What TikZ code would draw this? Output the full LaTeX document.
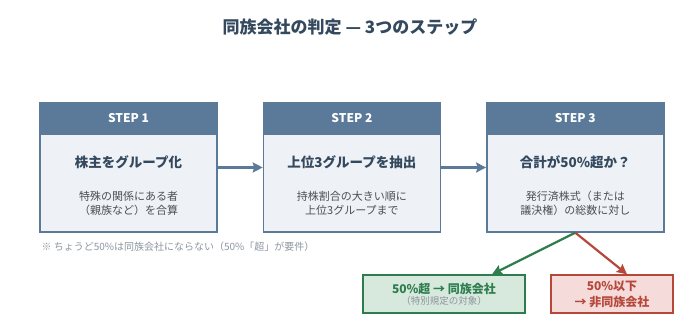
\documentclass[tikz,border=0pt]{standalone}
\usepackage{fontspec}
\setmainfont{Noto Sans CJK JP}
\usepackage{xcolor}
\usepackage{tikz}
\usetikzlibrary{arrows.meta,positioning}

\definecolor{stepblue}{HTML}{5B7A99}
\definecolor{bodyfill}{HTML}{EEF2F7}
\definecolor{titlecol}{HTML}{34495E}
\definecolor{subcol}{HTML}{4A4F55}
\definecolor{notecol}{HTML}{8C959F}
\definecolor{okgreen}{HTML}{2E7D4F}
\definecolor{okfill}{HTML}{D7E8DC}
\definecolor{ngred}{HTML}{B5483B}
\definecolor{ngfill}{HTML}{F5DBDA}

\begin{document}
\begin{tikzpicture}[
    x=1pt, y=1pt,
    node distance=45pt,
    stepbox/.style={draw=stepblue, line width=1.4pt, fill=bodyfill, minimum width=177pt, minimum height=129pt, inner sep=0pt},
    hdr/.style={draw=stepblue, line width=1.4pt, fill=stepblue, text=white, font=\bfseries\fontsize{12}{14}\selectfont, minimum width=177pt, minimum height=31pt, inner sep=0pt},
    steptitle/.style={text=titlecol, font=\bfseries\fontsize{13.5}{16}\selectfont},
    stepsub/.style={text=subcol, font=\fontsize{11}{13.5}\selectfont, align=center},
    result/.style={line width=1.4pt, minimum height=38pt, inner sep=0pt, align=center},
    flow/.style={-{Stealth[length=10pt,width=10pt,inset=1.5pt]}, line width=2.2pt, stepblue},
    yes/.style={-{Stealth[length=10pt,width=10pt,inset=1.5pt]}, line width=2.2pt, okgreen},
    no/.style={-{Stealth[length=10pt,width=10pt,inset=1.5pt]}, line width=2.2pt, ngred}
]
\useasboundingbox (0,0) rectangle (700,336);

\node[text=titlecol, font=\bfseries\fontsize{17}{20}\selectfont] (title) at (350,309) {同族会社の判定 — 3つのステップ};

\node[stepbox] (s1) at (128.5,168.5) {};
\node[stepbox, right=of s1] (s2) {};
\node[stepbox, right=of s2] (s3) {};

\node[hdr, below=0pt of s1.north] (h1) {STEP 1};
\node[hdr, below=0pt of s2.north] (h2) {STEP 2};
\node[hdr, below=0pt of s3.north] (h3) {STEP 3};

\node[steptitle] (t1) at ([yshift=-28pt]h1.south) {株主をグループ化};
\node[steptitle] (t2) at ([yshift=-28pt]h2.south) {上位3グループを抽出};
\node[steptitle] (t3) at ([yshift=-28pt]h3.south) {合計が50\%超か？};

\node[stepsub] (d1) at ([yshift=-68.5pt]h1.south) {特殊の関係にある者\\（親族など）を合算};
\node[stepsub] (d2) at ([yshift=-68.5pt]h2.south) {持株割合の大きい順に\\上位3グループまで};
\node[stepsub] (d3) at ([yshift=-68.5pt]h3.south) {発行済株式（または\\議決権）の総数に対し};

\node[anchor=west, text=notecol, font=\fontsize{10}{12}\selectfont] (note) at (38,89) {※ ちょうど50\%は同族会社にならない（50\%「超」が要件）};

\node[result, draw=okgreen, fill=okfill, minimum width=162pt] (ok) at (444,42)
    {\textcolor{okgreen}{\bfseries\fontsize{12}{15}\selectfont 50\%超 → 同族会社}\\[-1pt]
     \textcolor{notecol}{\fontsize{9.5}{11}\selectfont （特別規定の対象）}};
\node[result, draw=ngred, fill=ngfill, minimum width=122pt, text=ngred, font=\bfseries\fontsize{12}{16}\selectfont] (ng) at (612,42)
    {50\%以下\\→ 非同族会社};

\draw[flow] (s1) -- (s2);
\draw[flow] (s2) -- (s3);
\draw[yes] (s3.south) -- ([xshift=48pt]ok.north);
\draw[no] (s3.south) -- ([xshift=15pt]ng.north);
\end{tikzpicture}
\end{document}
